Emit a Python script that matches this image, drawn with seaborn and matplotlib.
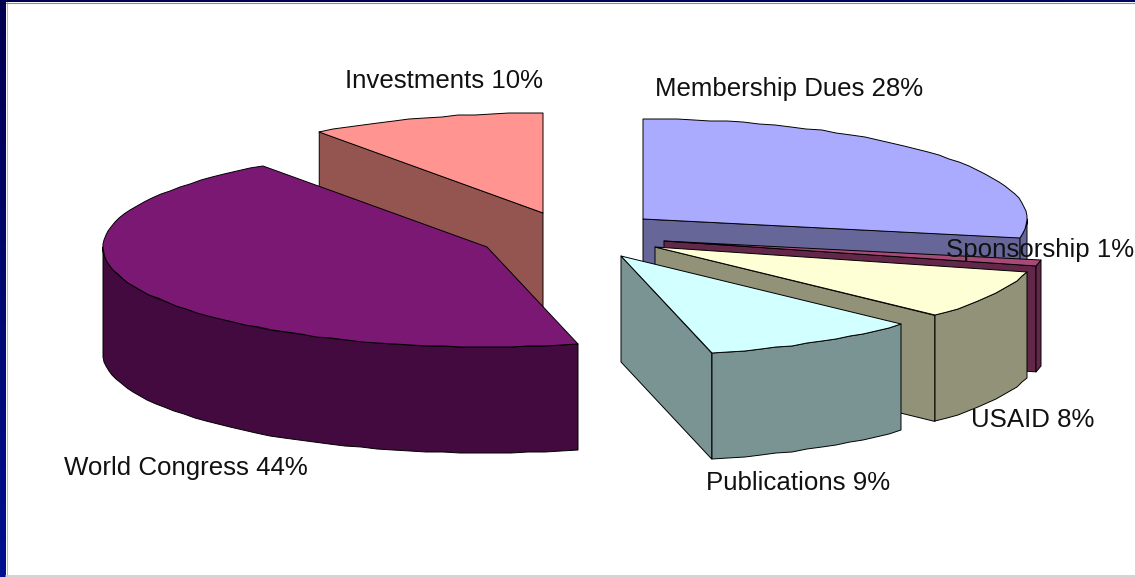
import numpy as np
import pandas as pd
import matplotlib
matplotlib.use('Agg')
import matplotlib.pyplot as plt
from matplotlib.patches import Polygon
import seaborn as sns

# clockwise from 12 o'clock (labels show them rounded)
categories = ['Membership Dues', 'Sponsorship', 'USAID', 'Publications', 'World Congress', 'Investments']
shares = [28.0, 1.0, 8.0, 9.2, 43.9, 9.9]

# layout and styling per slice (pixels)
apex_x = [643, 664, 655, 621, 487, 543]
apex_y = [219, 241, 247, 256, 247, 213]
label_x = [655, 946, 971, 706, 64, 345]
label_y = [89, 250, 420, 483, 468, 81]
top_colors = ['#AAAAFF', '#A84A78', '#FFFFD5', '#D2FFFF', '#7A1874', '#FF9490']
side_colors = ['#666699', '#63274A', '#929278', '#7A9494', '#420A3F', '#945550']
draw_order = ['Investments', 'World Congress', 'Membership Dues', 'Sponsorship', 'USAID', 'Publications']

RX, RY, DEPTH = 384, 100, 106
W, H = 1135, 577

df = pd.DataFrame({'category': categories, 'share': shares, 'ax': apex_x, 'ay': apex_y,
                   'lx': label_x, 'ly': label_y, 'top': top_colors, 'side': side_colors})
df['end'] = df['share'].cumsum() * 3.6
df['start'] = df['end'] - df['share'] * 3.6
df = df.set_index('category')

sns.set_style('white')
plt.rcParams['font.family'] = ['Liberation Sans', 'DejaVu Sans']

fig = plt.figure(figsize=(W / 100, H / 100), dpi=100)
ax = fig.add_axes([0, 0, 1, 1])


def rim(row, a1, a2):
    # snapped to whole pixels, the source has a slightly bumpy rim
    n = max(2, int((a2 - a1) / 2.5) + 1)
    t = np.radians(np.linspace(a1, a2, n))
    x = row['ax'] + RX * np.sin(t)
    y = row['ay'] - RY * np.cos(t)
    return np.column_stack([np.round(x), np.round(y)])


def add(pts, color, z):
    ax.add_patch(Polygon(pts, closed=True, facecolor=color, edgecolor='black', lw=0.7, zorder=z, joinstyle='round'))


def radial_face(row, angle, z):
    t = np.radians(angle)
    rx, ry = row['ax'] + RX * np.sin(t), row['ay'] - RY * np.cos(t)
    pts = [(row['ax'], row['ay']), (rx, ry), (rx, ry + DEPTH), (row['ax'], row['ay'] + DEPTH)]
    add(pts, row['side'], z)


z = 2
for name in draw_order:
    row = df.loc[name]
    # radial walls only when they face the viewer
    if np.cos(np.radians(row['start'] - 90)) < 0:
        radial_face(row, row['start'], z)
    if np.cos(np.radians(row['end'] + 90)) < 0:
        radial_face(row, row['end'], z)
    # outer wall, front half only
    a1, a2 = max(row['start'], 90), min(row['end'], 270)
    if a2 > a1:
        edge = rim(row, a1, a2)
        add(np.vstack([edge, (edge + [0, DEPTH])[::-1]]), row['side'], z)
    top = rim(row, row['start'], row['end'])
    add(np.vstack([[(row['ax'], row['ay'])], top]), row['top'], z + 0.5)
    z += 1

for name, row in df.iterrows():
    ax.text(row['lx'], row['ly'], f"{name} {round(row['share'])}%", fontsize=18.6, color='#111111',
            ha='left', va='center', zorder=20)

# slide frame
grad = np.linspace(0, 1, 64)[:, None]
frame = sns.blend_palette(['#000050', '#00108F'], as_cmap=True)
ax.imshow(grad, extent=(0, 6, H, 0), cmap=frame, aspect='auto', zorder=30)
ax.imshow(grad.T * 0.3, extent=(0, W, 2, 0), cmap=frame, vmin=0, vmax=1, aspect='auto', zorder=30)
ax.plot([6.5, 6.5], [2, H], color='#B8B8C0', lw=0.8, zorder=30)
ax.plot([6, W], [2.5, 2.5], color='#8C8CA0', lw=0.8, zorder=30)
ax.plot([6, W], [576, 576], color='#CCCCCC', lw=1.2, zorder=30)

ax.set_xlim(0, W)
ax.set_ylim(H, 0)
ax.axis('off')

fig.savefig('out.png', dpi=100)
plt.close(fig)
